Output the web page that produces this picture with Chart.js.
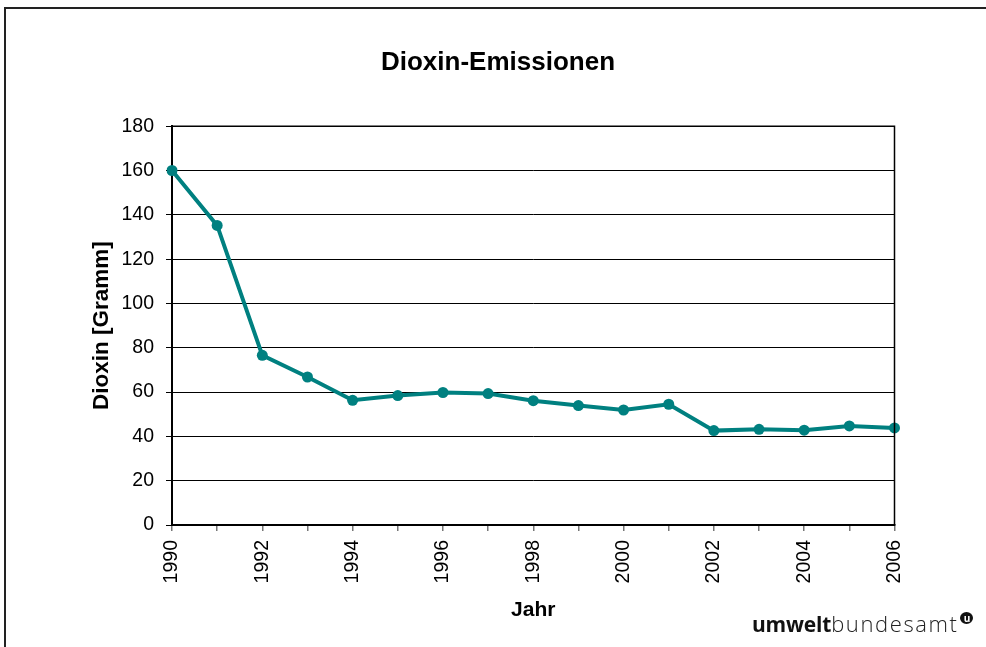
<!DOCTYPE html>
<html lang="de">
<head>
  <meta charset="UTF-8">
  <title>Dioxin-Emissionen</title>
  <script src="https://cdn.jsdelivr.net/npm/chart.js"></script>
  <style>
    html, body { margin: 0; padding: 0; background: #fff; }
    #wrap { position: relative; width: 986px; height: 647px; overflow: hidden; }
    #frame { position: absolute; left: 4px; top: 7px; width: 1100px; height: 800px;
             border-left: 2px solid #222; border-top: 2px solid #222; }
    #chart { position: absolute; left: 0; top: 0; }
    #logo { position: absolute; left: 752px; top: 608px; font-family: "Open Sans", sans-serif;
            font-size: 21px; color: #111; white-space: nowrap; }
    #logo b { font-weight: 700; letter-spacing: -0.2px; }
    #logo span.l { font-weight: 300; color: #222; font-size: 22px; letter-spacing: 1.6px; }
    #logo .mark { display: inline-block; width: 13px; height: 12px; border-radius: 50%;
                  background: #111; color: #fff; font-size: 10px; line-height: 12px; text-align: center;
                  font-weight: 700; vertical-align: 10px; margin-left: 2px; }
  </style>
</head>
<body>
  <div id="wrap">
    <div id="frame"></div>
    <canvas id="chart" width="986" height="647"></canvas>
    <div id="logo"><b>umwelt</b><span class="l">bundesamt</span><span class="mark">u</span></div>
  </div>

  <script>
    // Jahre und Werte (Gramm)
    const years = ['1990', '1991', '1992', '1993', '1994', '1995', '1996', '1997', '1998',
                   '1999', '2000', '2001', '2002', '2003', '2004', '2005', '2006'];
    const dioxin = [160, 135.2, 76.6, 66.8, 56.3, 58.4, 59.8, 59.3, 56.1,
                    53.9, 51.9, 54.5, 42.6, 43.2, 42.8, 44.7, 43.8];
    const yTicks = [0, 20, 40, 60, 80, 100, 120, 140, 160, 180];

    const teal = '#008080';
    const fontFamily = '"Liberation Sans", Arial, sans-serif';

    // Rahmen um die Zeichenfläche (oben und rechts)
    const plotFrame = {
      id: 'plotFrame',
      afterDatasetsDraw(chart) {
        const { ctx, chartArea: a } = chart;
        ctx.save();
        ctx.strokeStyle = '#000';
        ctx.lineWidth = 1.5;
        ctx.beginPath();
        ctx.moveTo(a.left, a.top);
        ctx.lineTo(a.right, a.top);
        ctx.lineTo(a.right, a.bottom);
        ctx.stroke();
        ctx.restore();
      }
    };

    new Chart(document.getElementById('chart').getContext('2d'), {
      type: 'line',
      data: {
        labels: years,
        datasets: [{
          label: 'Dioxin',
          data: dioxin,
          borderColor: teal,
          backgroundColor: teal,
          borderWidth: 4,
          pointRadius: 5.5,
          pointBorderWidth: 0,
          pointBackgroundColor: teal,
          tension: 0,
          yAxisID: 'y'
        }]
      },
      options: {
        responsive: false,
        animation: false,
        layout: { padding: { left: 10, right: 0, top: 0, bottom: 0 } },
        plugins: {
          legend: { display: false },
          tooltip: { enabled: false },
          title: {
            display: true,
            text: 'Dioxin-Emissionen',
            color: '#000',
            font: { family: fontFamily, size: 26, weight: 'bold' },
            padding: { top: 47, bottom: 48 }
          }
        },
        scales: {
          x: {
            type: 'category',
            offset: false,
            grid: { drawOnChartArea: false, drawTicks: true, tickLength: 6, color: '#777', lineWidth: 1.5 },
            border: { display: true, color: '#000', width: 2 },
            ticks: {
              autoSkip: false,
              minRotation: 90,
              maxRotation: 90,
              padding: 9,
              color: '#000',
              font: { family: fontFamily, size: 19.5 },
              callback: function (value, index) {
                const y = years[index];
                return Number(y) % 2 === 0 ? y : '';
              }
            },
            title: {
              display: true,
              text: 'Jahr',
              color: '#000',
              font: { family: fontFamily, size: 21, weight: 'bold' },
              padding: { top: 0, bottom: 24 }
            },
            afterFit(scale) { scale.height = 122; }
          },
          y: {
            position: 'left',
            min: 0,
            max: 180,
            afterBuildTicks(scale) { scale.ticks = yTicks.map(v => ({ value: v })); },
            grid: { color: '#000', lineWidth: 1, tickLength: 6, drawTicks: true },
            border: { display: true, color: '#000', width: 2 },
            ticks: {
              padding: 12,
              color: '#000',
              font: { family: fontFamily, size: 19.5 }
            },
            title: {
              display: true,
              text: 'Dioxin [Gramm]',
              color: '#000',
              font: { family: fontFamily, size: 22.5, weight: 'bold' },
              padding: { top: 78, bottom: 0 }
            },
            afterFit(scale) { scale.width = 162; }
          },
          // leere Achse rechts, hält nur den Abstand zum Rand
          y2: {
            position: 'right',
            min: 0,
            max: 180,
            grid: { display: false },
            border: { display: false },
            ticks: { display: false },
            afterFit(scale) { scale.width = 91.5; }
          }
        }
      },
      plugins: [plotFrame]
    });
  </script>
</body>
</html>
